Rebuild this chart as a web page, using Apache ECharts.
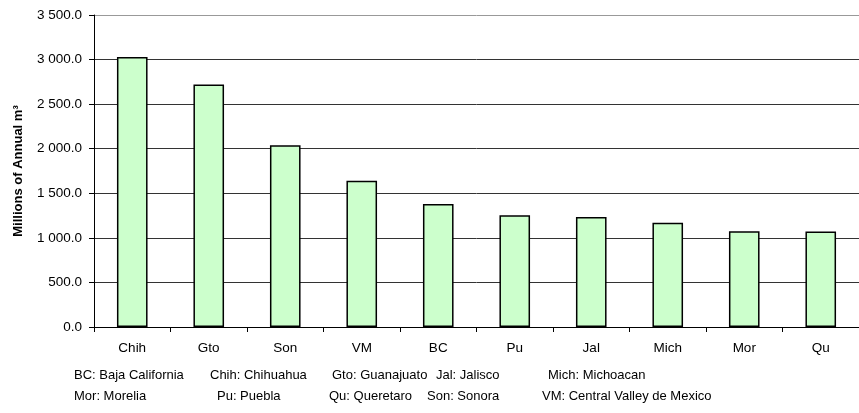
<!DOCTYPE html>
<html>
<head>
<meta charset="utf-8">
<script src="https://cdn.jsdelivr.net/npm/echarts@6/dist/echarts.min.js"></script>
<style>
  html, body { margin: 0; padding: 0; background: #fff; }
  #chart { width: 859px; height: 413px; }
</style>
</head>
<body>
<div id="chart"></div>
<script>
// regions (abbreviations) and annual volume, millions of m3
const regions = ['Chih', 'Gto', 'Son', 'VM', 'BC', 'Pu', 'Jal', 'Mich', 'Mor', 'Qu']
const volumes = [3030, 2720, 2040, 1640, 1380, 1255, 1235, 1170, 1075, 1070]

// footnote: abbreviation key, two rows
const keyRow1 = ['BC: Baja California', 'Chih: Chihuahua', 'Gto: Guanajuato', 'Jal: Jalisco', 'Mich: Michoacan']
const keyRow2 = ['Mor: Morelia', 'Pu: Puebla', 'Qu: Queretaro', 'Son: Sonora', 'VM: Central Valley de Mexico']
const keyRow1X = [74, 210, 332, 436, 548]
const keyRow2X = [74, 217, 329, 427, 542]

const FONT = '"Liberation Sans", Arial, sans-serif'

function fmt(v) {
    // 3500 -> "3 500.0"
    let s = v.toFixed(1)
    let parts = s.split('.')
    parts[0] = parts[0].replace(/\B(?=(\d{3})+(?!\d))/g, ' ')
    return parts.join('.')
}

function keyText(row, xs, y) {
    return row.map((t, i) => ({
        type: 'text',
        left: xs[i],
        top: y,
        style: { text: t, font: '13px ' + FONT, fill: '#000' }
    }))
}

let chart = echarts.init(document.getElementById('chart'))

let option = {
    backgroundColor: '#fff',
    animation: false,
    grid: {
        left: 94,
        right: -9,
        top: 15,
        bottom: 86,
        containLabel: false
    },
    xAxis: {
        type: 'category',
        data: regions,
        boundaryGap: true,
        axisLine: { lineStyle: { color: '#000', width: 1 } },
        axisTick: { show: true, length: 5, alignWithLabel: false, lineStyle: { color: '#000' } },
        axisLabel: { color: '#000', fontSize: 13.5, fontFamily: FONT, margin: 14 }
    },
    yAxis: {
        type: 'value',
        min: 0,
        max: 3500,
        interval: 500,
        name: 'Millions of Annual m³',
        nameLocation: 'middle',
        nameGap: 69,
        nameTextStyle: { color: '#000', fontSize: 13, fontWeight: 'bold', fontFamily: FONT },
        axisLine: { show: true, lineStyle: { color: '#000', width: 1 } },
        axisTick: { show: true, length: 5, lineStyle: { color: '#000' } },
        axisLabel: { color: '#000', fontSize: 13.5, fontFamily: FONT, margin: 12, formatter: fmt },
        splitLine: {
            show: true,
            lineStyle: {
                color: ['#333', '#333', '#333', '#333', '#333', '#333', '#333', '#999'],
                width: 1
            }
        }
    },
    series: [{
        type: 'bar',
        data: volumes,
        barWidth: '40%',
        itemStyle: { color: '#CCFFCC', borderColor: '#000', borderWidth: 1.5 }
    }],
    graphic: keyText(keyRow1, keyRow1X, 369).concat(keyText(keyRow2, keyRow2X, 390))
}

chart.setOption(option)
</script>
</body>
</html>
